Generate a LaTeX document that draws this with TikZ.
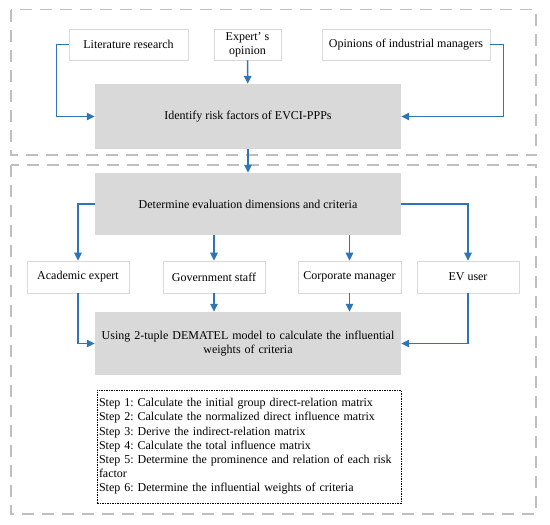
\documentclass[tikz,border=0pt]{standalone}
\usepackage{fontspec}
\setmainfont{Liberation Serif}
\usepackage{xcolor}
\usepackage{tikz}
\usetikzlibrary{arrows.meta}
\usetikzlibrary{calc,positioning}

\definecolor{flowblue}{HTML}{2E75B6}
\definecolor{boxgray}{HTML}{D9D9D9}
\definecolor{framegray}{HTML}{BFBFBF}
\frenchspacing

\begin{document}
\begin{tikzpicture}[x=1pt, y=-1pt,
    every node/.style={font=\fontsize{12}{14.2}\selectfont, inner sep=0pt},
    srcbox/.style={draw=black!15, line width=0.8pt, minimum height=31pt, align=center},
    mainbox/.style={fill=boxgray, minimum width=306pt, align=center},
    flow/.style={draw=flowblue, line width=1.4pt, -{Triangle[length=8pt,width=7.5pt]}},
    frame/.style={draw=framegray, line width=1.5pt, dash pattern=on 12pt off 8pt}]

    \useasboundingbox (0,0) rectangle (550,525);

    % Frames
    \draw[frame] (11,9.5) rectangle (536,155);
    \draw[frame] (11,165) rectangle (536,514);

    % Sources
    \node[srcbox, minimum width=119pt] (lit) at (128.5,44.5) {Literature research};
    \node[srcbox, minimum width=67pt] (expert) at (247.5,44.5) {Expert’ s\\opinion};
    \node[srcbox, minimum width=168pt] (managers) at (406,44.5) {Opinions of industrial managers};

    \node[mainbox, minimum height=65pt] (ident) at (248,116.5) {Identify risk factors of EVCI-PPPs};

    \draw[flow] (lit.west) -- ++(-12,0) |- (ident.west);
    \draw[flow] (expert) -- (ident);
    \draw[flow] (managers.east) -- ++(13,0) |- (ident.east);

    % Evaluation
    \node[mainbox, minimum height=62pt] (determ) at (248,204) {Determine evaluation dimensions and criteria};
    \draw[flow] (ident) -- (determ);

    \node[srcbox, minimum width=102pt, minimum height=32pt] (academic) at (78,277) {Academic expert};
    \node[srcbox, minimum width=102pt, minimum height=32pt] (gov) at (214,277) {Government staff};
    \node[srcbox, minimum width=103pt, minimum height=32pt] (corp) at (349.5,277) {Corporate manager};
    \node[srcbox, minimum width=102pt, minimum height=32pt] (evuser) at (468,277) {EV user};

    \node[mainbox, minimum height=63pt, text width=300pt] (dematel) at (248,343.5)
        {Using 2-tuple DEMATEL model to calculate the influential\\weights of criteria};

    \draw[flow] (determ.west) -| (academic.north);
    \draw[flow] (determ.south -| gov) -- (gov.north);
    \draw[flow] (determ.south -| corp) -- (corp.north);
    \draw[flow] (determ.east) -| (evuser.north);

    \draw[flow] (academic.south) |- (dematel.west);
    \draw[flow] (gov.south) -- (dematel.north -| gov);
    \draw[flow] (corp.south) -- (dematel.north -| corp);
    \draw[flow] (evuser.south) |- (dematel.east);

    % Steps
    \node[draw, line width=0.5pt, dash pattern=on 1.5pt off 1pt, text width=300pt, inner xsep=2pt,
          minimum height=113pt, align=left] (steps) at (249,446.5)
        {Step 1: Calculate the initial group direct-relation matrix\\
         Step 2: Calculate the normalized direct influence matrix\\
         Step 3: Derive the indirect-relation matrix\\
         Step 4: Calculate the total influence matrix\\
         Step 5: Determine the prominence and relation of each risk\\
         factor\\
         Step 6: Determine the influential weights of criteria};

\end{tikzpicture}
\end{document}
